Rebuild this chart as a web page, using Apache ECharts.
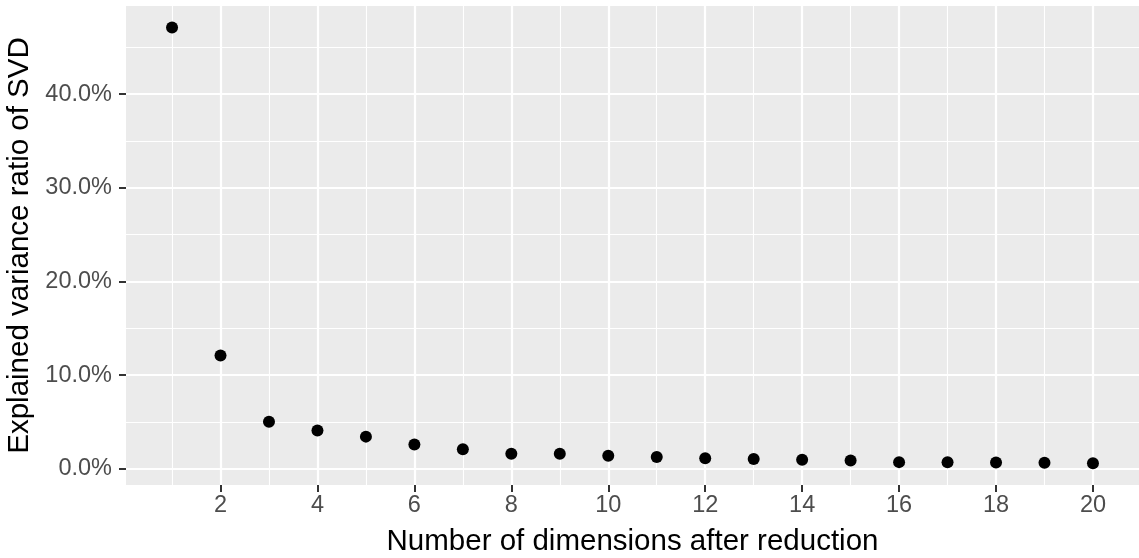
<!DOCTYPE html>
<html lang="en">
<head>
    <meta charset="UTF-8">
    <title>SVD explained variance</title>
    <script src="https://cdn.jsdelivr.net/npm/echarts@6/dist/echarts.min.js"></script>
    <style>
        html, body { margin: 0; padding: 0; background: #fff; }
        #chart { width: 1139px; height: 558px; }
    </style>
</head>
<body>
<div id="chart"></div>
<script type="text/javascript">
    // 数据
    var dims = [1, 2, 3, 4, 5, 6, 7, 8, 9, 10, 11, 12, 13, 14, 15, 16, 17, 18, 19, 20];
    var ratios = [0.471, 0.121, 0.0505, 0.041, 0.0345, 0.026, 0.021, 0.0163, 0.0162, 0.0142,
                  0.0128, 0.0114, 0.0107, 0.0099, 0.0090, 0.0073, 0.0072, 0.0069, 0.0066, 0.0062];
    var xTicks = [2, 4, 6, 8, 10, 12, 14, 16, 18, 20];
    var xMinor = [1, 3, 5, 7, 9, 11, 13, 15, 17, 19];
    var yTicks = [0, 0.1, 0.2, 0.3, 0.4];
    var yMinor = [0.05, 0.15, 0.25, 0.35, 0.45];

    var points = dims.map(function (d, i) { return [d, ratios[i]]; });

    var font = 'Liberation Sans, Arial, Helvetica, sans-serif';
    var xMin = 0.05, xMax = 20.95, yMin = -0.0171, yMax = 0.4939;

    var chart = echarts.init(document.getElementById('chart'), null, {renderer: 'canvas'});

    var option = {
        backgroundColor: '#ffffff',
        animation: false,
        grid: {
            left: 126, top: 6, width: 1013, height: 479,
            containLabel: false, outerBoundsMode: 'none',
            show: true, backgroundColor: '#EBEBEB', borderWidth: 0
        },
        xAxis: [
            {
                type: 'value', min: xMin, max: xMax, position: 'bottom',
                name: 'Number of dimensions after reduction',
                nameLocation: 'middle', nameGap: 42,
                nameTextStyle: {fontFamily: font, fontSize: 29.5, color: '#000'},
                axisLine: {show: false, onZero: false},
                axisTick: {show: true, customValues: xTicks, length: 7, lineStyle: {color: '#333', width: 2}},
                axisLabel: {customValues: xTicks, margin: 9, fontFamily: font, fontSize: 23.5, color: '#4D4D4D'},
                splitLine: {show: true, lineStyle: {color: '#fff', width: 2.2}}
            },
            {
                type: 'value', min: xMin, max: xMax, position: 'bottom',
                axisLine: {show: false, onZero: false},
                axisTick: {show: false, customValues: xMinor},
                axisLabel: {show: false},
                splitLine: {show: true, lineStyle: {color: '#fff', width: 1.1}}
            }
        ],
        yAxis: [
            {
                type: 'value', min: yMin, max: yMax, position: 'left',
                name: 'Explained variance ratio of SVD',
                nameLocation: 'middle', nameGap: 84,
                nameTextStyle: {fontFamily: font, fontSize: 29.5, color: '#000'},
                axisLine: {show: false, onZero: false},
                axisTick: {show: true, customValues: yTicks, length: 7, lineStyle: {color: '#333', width: 2}},
                axisLabel: {
                    customValues: yTicks, margin: 14, fontFamily: font, fontSize: 23.5, color: '#4D4D4D',
                    formatter: function (v) { return (v * 100).toFixed(1) + '%'; }
                },
                splitLine: {show: true, lineStyle: {color: '#fff', width: 2.2}}
            },
            {
                type: 'value', min: yMin, max: yMax, position: 'left',
                axisLine: {show: false, onZero: false},
                axisTick: {show: false, customValues: yMinor},
                axisLabel: {show: false},
                splitLine: {show: true, lineStyle: {color: '#fff', width: 1.1}}
            }
        ],
        series: [{
            type: 'scatter',
            xAxisIndex: 0, yAxisIndex: 0,
            symbol: 'circle', symbolSize: 12,
            itemStyle: {color: '#000', opacity: 1},
            data: points
        }]
    };

    chart.setOption(option);
</script>
</body>
</html>
